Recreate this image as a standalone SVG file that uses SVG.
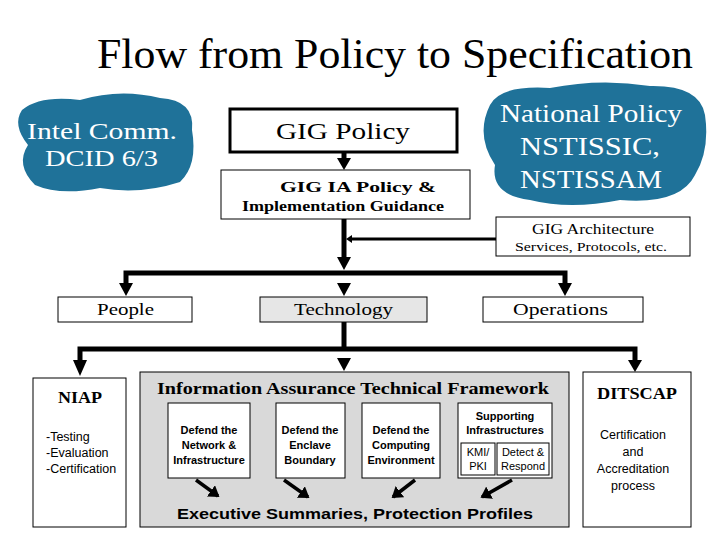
<svg xmlns="http://www.w3.org/2000/svg" width="720" height="540" viewBox="0 0 720 540">
<style>
.s{font-family:"Liberation Serif","Times New Roman",serif;fill:#000}
.a{font-family:"Liberation Sans",Arial,sans-serif;fill:#000}
.b{fill:#fff;stroke:#000;stroke-width:1}
.w{font-family:"Liberation Serif","Times New Roman",serif;fill:#fff}
.c{stroke:#000;stroke-width:5;fill:none}
.t{stroke:#000;stroke-width:3;fill:none}
</style>
<defs>
<marker id="ar" markerWidth="4" markerHeight="4" refX="2.5" refY="2" orient="auto" markerUnits="strokeWidth"><path d="M0,0 L3,2 L0,4 z" fill="#000"/></marker>
</defs>
<rect width="720" height="540" fill="#fff"/>
<text class="s" x="97" y="68" font-size="42" textLength="596" lengthAdjust="spacingAndGlyphs">Flow from Policy to Specification</text>
<g id="intel">
<path d="M22,110 Q40,95 80,100 Q120,88 160,98 Q195,100 192,130 Q198,165 180,182 Q140,195 100,188 Q60,196 35,185 Q15,165 28,145 Q12,125 22,110 z" fill="#1f7299"/>
<text class="w" x="27" y="139" font-size="23" textLength="150" lengthAdjust="spacingAndGlyphs">Intel Comm.</text>
<text class="w" x="45" y="166" font-size="23" textLength="113" lengthAdjust="spacingAndGlyphs">DCID 6/3</text>
</g>
<g id="national">
<path d="M490,105 Q500,85 550,88 Q600,78 650,86 Q700,85 705,115 Q710,150 695,175 Q680,205 620,200 Q570,210 530,200 Q490,195 495,165 Q475,135 490,105 z" fill="#1f7299"/>
<text class="w" x="500" y="122" font-size="25" textLength="182" lengthAdjust="spacingAndGlyphs">National Policy</text>
<text class="w" x="520" y="155" font-size="25" textLength="140" lengthAdjust="spacingAndGlyphs">NSTISSIC,</text>
<text class="w" x="520" y="188" font-size="25" textLength="142" lengthAdjust="spacingAndGlyphs">NSTISSAM</text>
</g>
<g id="gigpolicy"><rect x="230" y="109" width="227" height="43" fill="#fff" stroke="#000" stroke-width="3"/>
<text class="s" x="276" y="139" font-size="24" textLength="134" lengthAdjust="spacingAndGlyphs">GIG Policy</text></g>
<g id="gigia"><rect class="b" x="221" y="170" width="249" height="49"/>
<text class="s" x="280" y="192" font-size="15" font-weight="bold" textLength="156" lengthAdjust="spacingAndGlyphs">GIG IA Policy &amp;</text>
<text class="s" x="242" y="211" font-size="15" font-weight="bold" textLength="202" lengthAdjust="spacingAndGlyphs">Implementation Guidance</text></g>
<g id="arch"><rect class="b" x="496" y="217" width="194" height="39"/>
<text class="s" x="532" y="234" font-size="14" textLength="122" lengthAdjust="spacingAndGlyphs">GIG Architecture</text>
<text class="s" x="515" y="251" font-size="13" textLength="152" lengthAdjust="spacingAndGlyphs">Services, Protocols, etc.</text></g>
<g id="people"><rect class="b" x="58" y="297" width="134" height="25"/><text class="s" x="97" y="315" font-size="17" textLength="57" lengthAdjust="spacingAndGlyphs">People</text></g>
<g id="tech"><rect x="260" y="297" width="167" height="25" fill="#e6e6e6" stroke="#000"/><text class="s" x="294" y="315" font-size="17" textLength="99" lengthAdjust="spacingAndGlyphs">Technology</text></g>
<g id="ops"><rect class="b" x="483" y="297" width="160" height="25"/><text class="s" x="513" y="315" font-size="17" textLength="95" lengthAdjust="spacingAndGlyphs">Operations</text></g>
<g id="niap"><rect class="b" x="33" y="378" width="93" height="149"/>
<text class="s" x="58" y="403" font-size="16" font-weight="bold" textLength="44" lengthAdjust="spacingAndGlyphs">NIAP</text>
<text class="a" x="46" y="441" font-size="12.5">-Testing</text>
<text class="a" x="46" y="457" font-size="12.5">-Evaluation</text>
<text class="a" x="46" y="473" font-size="12.5">-Certification</text></g>
<g id="iatf"><rect x="140" y="372" width="429" height="155" fill="#d9d9d9" stroke="#000"/>
<text class="s" x="157" y="394" font-size="17" font-weight="bold" textLength="392" lengthAdjust="spacingAndGlyphs">Information Assurance Technical Framework</text>
<text class="a" x="177" y="519" font-size="15" font-weight="bold" textLength="356" lengthAdjust="spacingAndGlyphs">Executive Summaries, Protection Profiles</text></g>
<g id="net"><rect class="b" x="168" y="403" width="82" height="75"/>
<g class="a" font-size="11" font-weight="bold" text-anchor="middle"><text x="209" y="434">Defend the</text><text x="209" y="449">Network &amp;</text><text x="209" y="464">Infrastructure</text></g></g>
<g id="enc"><rect class="b" x="276" y="403" width="69" height="75"/>
<g class="a" font-size="11" font-weight="bold" text-anchor="middle"><text x="310" y="434">Defend the</text><text x="310" y="449">Enclave</text><text x="310" y="464">Boundary</text></g></g>
<g id="comp"><rect class="b" x="362" y="403" width="78" height="75"/>
<g class="a" font-size="11" font-weight="bold" text-anchor="middle"><text x="401" y="434">Defend the</text><text x="401" y="449">Computing</text><text x="401" y="464">Environment</text></g></g>
<g id="sup"><rect class="b" x="458" y="403" width="94" height="75"/>
<g class="a" font-size="11" font-weight="bold" text-anchor="middle"><text x="505" y="420">Supporting</text><text x="505" y="434">Infrastructures</text></g>
<rect class="b" x="461" y="443" width="34" height="32"/><rect class="b" x="497" y="443" width="52" height="32"/>
<g class="a" font-size="11" text-anchor="middle"><text x="478" y="456">KMI/</text><text x="478" y="470">PKI</text><text x="523" y="456">Detect &amp;</text><text x="523" y="470">Respond</text></g></g>
<g id="dits"><rect class="b" x="583" y="372" width="108" height="155"/>
<text class="s" x="597" y="399" font-size="16" font-weight="bold" textLength="80" lengthAdjust="spacingAndGlyphs">DITSCAP</text>
<g class="a" font-size="12.5" text-anchor="middle"><text x="633" y="439">Certification</text><text x="633" y="456">and</text><text x="633" y="473">Accreditation</text><text x="633" y="490">process</text></g></g>
<g id="connectors">
<line class="c" x1="344" y1="152" x2="344" y2="160" /><path d="M337,158 L351,158 L344,170 z"/>
<line class="c" x1="344" y1="219" x2="344" y2="260"/><path d="M337,257 L351,257 L344,270 z"/>
<line class="t" x1="496" y1="239" x2="350" y2="239"/><path d="M352,235 L352,243 L346,239 z"/>
<path class="c" d="M126,284 V273 H565 V284"/>
<path d="M119,283 L133,283 L126,296 z"/><path d="M337,283 L351,283 L344,296 z"/><path d="M558,283 L572,283 L565,296 z"/>
<line class="c" x1="344" y1="322" x2="344" y2="349"/>
<path class="c" d="M80,361 V349 H635 V361"/>
<path d="M73,360 L87,360 L80,376 z"/><path d="M337,358 L351,358 L344,371 z"/><path d="M628,360 L642,360 L635,372 z"/>
<g stroke="#000" stroke-width="3.5" marker-end="url(#ar)">
<line x1="196" y1="480" x2="218" y2="496"/><line x1="284" y1="480" x2="308" y2="497"/>
<line x1="415" y1="480" x2="393" y2="497"/><line x1="512" y1="480" x2="482" y2="497"/></g>
</g>
</svg>
